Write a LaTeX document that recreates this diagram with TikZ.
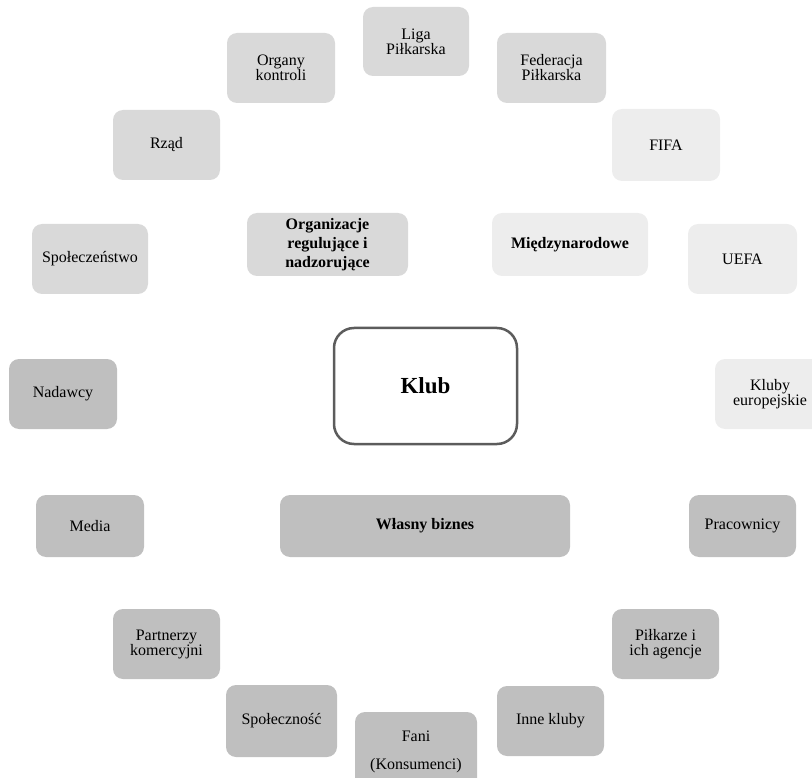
\documentclass[tikz,border=0pt]{standalone}
\usepackage{fontspec}
\setmainfont{Liberation Serif}
\definecolor{regszary}{HTML}{D9D9D9}
\definecolor{intszary}{HTML}{EDEDED}
\definecolor{bizszary}{HTML}{BFBFBF}
\definecolor{ramka}{HTML}{5C5C5C}
\tikzset{
	pole/.style={rounded corners=10pt, inner sep=0pt, align=center,
		font=\fontsize{16}{15}\selectfont},
	regbox/.style={pole, fill=regszary},
	intbox/.style={pole, fill=intszary},
	bizbox/.style={pole, fill=bizszary},
	grupa/.style={font=\fontsize{16}{19}\selectfont\bfseries},
	klubbox/.style={rounded corners=20pt, draw=ramka, line width=2.5pt, fill=white,
		minimum width=183pt, minimum height=116pt, font=\fontsize{23}{25}\selectfont\bfseries}
}
\begin{document}
\begin{tikzpicture}[x=1pt, y=-1pt]
		\useasboundingbox (0, 0) rectangle (812, 778); % rozmiar jak w oryginale

		% organizacje regulujące i nadzorujące
		\node[regbox, minimum width=106pt, minimum height=69pt] (liga) at (416, 41.5) {Liga\\Piłkarska};
		\node[regbox, minimum width=108pt, minimum height=70pt] (organy) at (281, 68) {Organy\\kontroli};
		\node[regbox, minimum width=109pt, minimum height=70pt] (federacja) at (551.5, 68) {Federacja\\Piłkarska};
		\node[regbox, minimum width=107pt, minimum height=70pt] (rzad) at (166.5, 145) {Rząd};
		\node[regbox, minimum width=116pt, minimum height=70pt] (spoleczenstwo) at (90, 259) {Społeczeństwo};
		\node[regbox, grupa, minimum width=161pt, minimum height=63pt] (organizacje) at (327.5, 244.5) {Organizacje\\regulujące i\\nadzorujące};

		% międzynarodowe
		\node[intbox, minimum width=108pt, minimum height=72pt] (fifa) at (666, 145) {FIFA};
		\node[intbox, grupa, minimum width=156pt, minimum height=63pt] (miedzynarodowe) at (570, 244.5) {Międzynarodowe};
		\node[intbox, minimum width=109pt, minimum height=70pt] (uefa) at (742.5, 259) {UEFA};
		\node[intbox, minimum width=110pt, minimum height=70pt] (kluby) at (770, 394) {Kluby\\europejskie};

		% klub w środku
		\node[klubbox] (klub) at (425.5, 386) {Klub};

		% własny biznes
		\node[bizbox, minimum width=108pt, minimum height=70pt] (nadawcy) at (63, 394) {Nadawcy};
		\node[bizbox, minimum width=108pt, minimum height=62pt] (media) at (90, 526) {Media};
		\node[bizbox, grupa, minimum width=290pt, minimum height=62pt] (biznes) at (425, 526) {Własny biznes};
		\node[bizbox, minimum width=107pt, minimum height=62pt] (pracownicy) at (742.5, 526) {Pracownicy};
		\node[bizbox, minimum width=107pt, minimum height=70pt] (partnerzy) at (166.5, 644) {Partnerzy\\komercyjni};
		\node[bizbox, minimum width=111pt, minimum height=72pt] (spolecznosc) at (281.5, 721) {Społeczność};
		\node[bizbox, minimum width=122pt, minimum height=80pt] (fani) at (416, 752) {Fani\\[13pt](Konsumenci)}; % dół poza obrazkiem
		\node[bizbox, minimum width=107pt, minimum height=70pt] (inne) at (550.5, 721) {Inne kluby};
		\node[bizbox, minimum width=107pt, minimum height=70pt] (pilkarze) at (665.5, 644) {Piłkarze i\\ich agencje};
	\end{tikzpicture}
\end{document}
